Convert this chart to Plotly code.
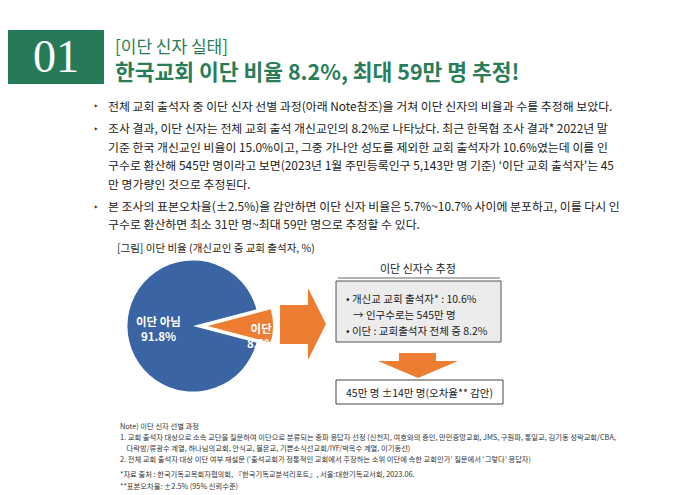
import plotly.graph_objects as go

W, H = 685, 495
labels = ["이단", "이단 아님"]
values = [8.2, 91.8]
colors = ["#ed7d31", "#3a64a3"]

bullets = [
    ["전체 교회 출석자 중 이단 신자 선별 과정(아래 Note참조)을 거쳐 이단 신자의 비율과 수를 추정해 보았다."],
    ["조사 결과, 이단 신자는 전체 교회 출석 개신교인의 8.2%로 나타났다. 최근 한목협 조사 결과* 2022년 말",
     "기준 한국 개신교인 비율이 15.0%이고, 그중 가나안 성도를 제외한 교회 출석자가 10.6%였는데 이를 인",
     "구수로 환산해 545만 명이라고 보면(2023년 1월 주민등록인구 5,143만 명 기준) ‘이단 교회 출석자’는 45",
     "만 명가량인 것으로 추정된다."],
    ["본 조사의 표본오차율(±2.5%)을 감안하면 이단 신자 비율은 5.7%~10.7% 사이에 분포하고, 이를 다시 인",
     "구수로 환산하면 최소 31만 명~최대 59만 명으로 추정할 수 있다."],
]
notes = [
    (418, "Note) 이단 신자 선별 과정"),
    (429, "1. 교회 출석자 대상으로 소속 교단을 질문하여 이단으로 분류되는 종파 응답자 선정 (신천지, 여호와의 증인, 만민중앙교회, JMS, 구원파, 통일교, 김기동 성락교회/CBA,"),
    (440, "    다락방/류광수 계열, 하나님의교회, 안식교, 몰몬교, 기쁜소식선교회/IYF/박옥수 계열, 이기동선)"),
    (451, "2. 전체 교회 출석자 대상 이단 여부 재설문 (‘출석교회가 정통적인 교회에서 주장하는 소위 이단에 속한 교회인가’ 질문에서 ‘그렇다’ 응답자)"),
    (466, "*자료 출처 : 한국기독교목회자협의회, 『한국기독교분석리포트』, 서울:대한기독교서회, 2023.06."),
    (478, "**표본오차율: ±2.5% (95% 신뢰수준)"),
]

FONT = "Noto Sans CJK KR"
def px(x): return x / W
def py(y): return 1 - y / H

fig = go.Figure()
fig.add_trace(go.Pie(
    labels=labels, values=values, sort=False, direction="clockwise",
    rotation=90 - values[0] / 100 * 360 / 2, pull=[0.22, 0],
    marker=dict(colors=colors, line=dict(width=0)), textinfo="none",
    hoverinfo="label+percent", showlegend=False,
    domain=dict(x=[px(105), px(265)], y=[py(398), py(238)]),
))

ann = []
shapes = []
def text(x, y, s, size=12, color="#222", bold=False, xa="left", family=FONT):
    ann.append(dict(x=px(x), y=py(y), xref="paper", yref="paper", text=f"<b>{s}</b>" if bold else s,
                    showarrow=False, xanchor=xa, yanchor="middle",
                    font=dict(size=size, color=color, family=family)))

# header
shapes.append(dict(type="rect", xref="paper", yref="paper", x0=px(0), x1=px(96), y0=py(76), y1=py(22),
                   fillcolor="#277a57", line=dict(width=0)))
text(48, 49, "01", 46, "white", xa="center", family="Liberation Serif")
text(105, 37, "[이단 신자 실태]", 17, "#2a7d58")
text(105, 63, "한국교회 이단 비율 8.2%, 최대 59만 명 추정!", 21.5, "#2a7d58", bold=True)

y = 97
for b in bullets:
    text(84, y, "‣", 11, "#333")
    for i, line in enumerate(b):
        text(98, y, line, 11.9, "#222")
        y += 18.5
    y += 4
text(107, 239, "[그림] 이단 비율 (개신교인 중 교회 출석자, %)", 10.5, "#222")

text(150, 320, "이단 아님<br>91.8%", 11.5, "white", bold=True, xa="center")
text(253, 327, "이단<br>8.2%", 11.5, "white", bold=True, xa="center")

# right arrow
shapes.append(dict(type="path", xref="paper", yref="paper",
    path=f"M {px(272)},{py(297)} L {px(300)},{py(297)} L {px(300)},{py(280)} L {px(318)},{py(316)} "
         f"L {px(300)},{py(352)} L {px(300)},{py(336)} L {px(272)},{py(336)} Z",
    fillcolor="#ed7d31", line=dict(width=0)))
text(410, 260, "이단 신자수 추정", 11, "#222", xa="center")
shapes.append(dict(type="line", xref="paper", yref="paper", x0=px(330), x1=px(492), y0=py(270), y1=py(270),
                   line=dict(color="#666", width=1)))
shapes.append(dict(type="rect", xref="paper", yref="paper", x0=px(328), x1=px(493), y0=py(334), y1=py(273),
                   fillcolor="#ececec", line=dict(color="#555", width=1)))
text(336, 290, "• 개신교 교회 출석자* : 10.6%", 10.5)
text(336, 306, "   → 인구수로는 545만 명", 10.5)
text(336, 322, "• 이단 : 교회출석자 전체 중 8.2%", 10.5)
# down arrow
shapes.append(dict(type="path", xref="paper", yref="paper",
    path=f"M {px(391)},{py(345)} L {px(428)},{py(345)} L {px(428)},{py(353)} L {px(450)},{py(353)} "
         f"L {px(410)},{py(370)} L {px(370)},{py(353)} L {px(391)},{py(353)} Z",
    fillcolor="#ed7d31", line=dict(width=0)))
shapes.append(dict(type="rect", xref="paper", yref="paper", x0=px(328), x1=px(495), y0=py(396), y1=py(372),
                   fillcolor="white", line=dict(color="#444", width=1)))
text(411, 384, "45만 명 ±14만 명(오차율** 감안)", 10.5, xa="center")

for yy, s in notes:
    text(110, yy, s, 7.3, "#333")

fig.update_layout(width=W, height=H, margin=dict(l=0, r=0, t=0, b=0),
                  paper_bgcolor="white", plot_bgcolor="white",
                  annotations=ann, shapes=shapes, font=dict(family=FONT))
fig.write_html("out.html")
